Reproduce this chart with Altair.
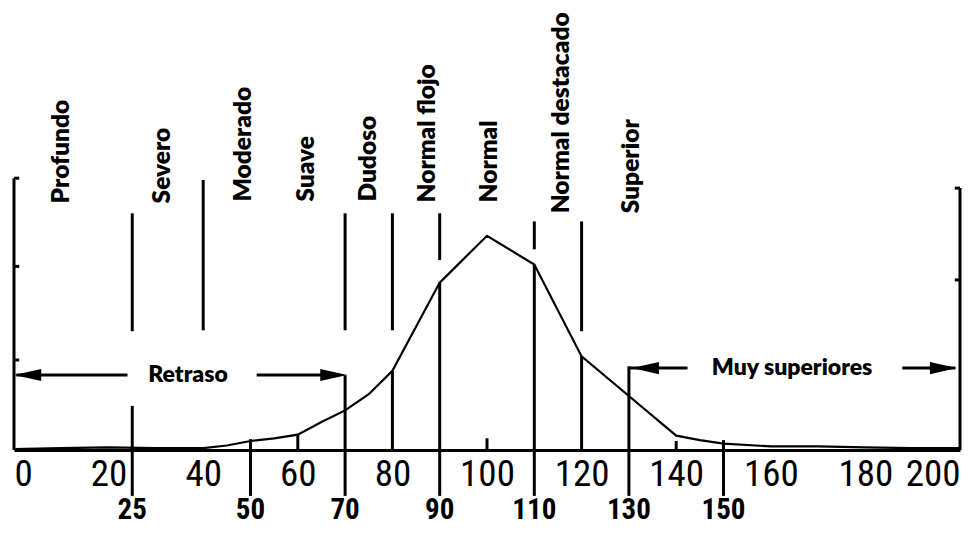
import altair as alt
import pandas as pd

# ---- data (x = score, y = relative frequency in axis units) ----
curve_x = [0, 10, 20, 30, 40, 45, 50, 55, 60, 65, 70, 75, 80, 90, 100, 110, 120, 130, 140, 145, 150, 160, 170, 180, 190, 200]
curve_y = [0.01, 0.02, 0.03, 0.02, 0.02, 0.05, 0.10, 0.13, 0.17, 0.31, 0.44, 0.62, 0.88, 1.86, 2.38, 2.06, 1.04, 0.60, 0.16, 0.11, 0.07, 0.04, 0.04, 0.03, 0.02, 0.02]

tick_values = [0, 20, 40, 60, 80, 100, 120, 140, 160, 180, 200]
bold_values = [25, 50, 70, 90, 110, 130, 150]

categories = ["Profundo", "Severo", "Moderado", "Suave", "Dudoso",
              "Normal flojo", "Normal", "Normal destacado", "Superior"]
category_x = [10.2, 31.5, 48.7, 62.0, 75.0, 87.5, 100.6, 115.8, 130.7]
category_base = [2.74, 2.74, 2.76, 2.76, 2.76, 2.75, 2.75, 2.63, 2.63]

# segments of the drawing (axis frame, class boundaries, arrow shafts)
seg_x1 = [0, 0, 0, 0, 200, 198.9, 198.9,
          25, 25, 40, 50, 60, 70, 70, 80, 80, 90, 90, 100, 110, 110, 120, 120, 130, 140, 150,
          0.5, 51.3, 130.0, 187.8]
seg_x2 = [0, 1.1, 1.1, 1.1, 200, 200, 200,
          25, 25, 40, 50, 60, 70, 70, 80, 80, 90, 90, 100, 110, 110, 120, 120, 130, 140, 150,
          24.0, 67.7, 142.4, 199.0]
seg_y1 = [0, 3.02, 2.04, 1.00, 0, 2.91, 1.89,
          1.32, -0.51, 1.33, -0.51, 0, 1.33, -0.51, 1.33, 0, 2.11, -0.51, 0, 2.23, -0.51, 1.32, 0, -0.51, 0, -0.51,
          0.833, 0.833, 0.91, 0.91]
seg_y2 = [3.02, 3.02, 2.04, 1.00, 2.91, 2.91, 1.89,
          2.63, 0.49, 3.00, 0.12, 0.17, 2.63, 0.83, 2.63, 0.88, 2.63, 1.86, 0.13, 2.54, 2.06, 2.54, 1.04, 0.93, 0.10, 0.11,
          0.833, 0.833, 0.91, 0.91]

arrow_labels = ["Retraso", "Muy superiores"]
arrow_label_x = [36.8, 164.5]
arrow_label_y = [0.833, 0.91]
arrow_left_x = [2.9, 133.5]
arrow_left_y = [0.833, 0.91]
arrow_right_x = [67.6, 196.5]
arrow_right_y = [0.833, 0.91]

# ---- tables ----
curve_df = pd.DataFrame({"x": curve_x, "y": curve_y})
seg_df = pd.DataFrame({"x": seg_x1, "x2": seg_x2, "y": seg_y1, "y2": seg_y2})
cat_df = pd.DataFrame({"x": category_x, "y": category_base, "label": categories})
bold_df = pd.DataFrame({"x": bold_values, "label": [str(v) for v in bold_values]})
alab_df = pd.DataFrame({"x": arrow_label_x, "y": arrow_label_y, "label": arrow_labels})
aleft_df = pd.DataFrame({"x": arrow_left_x, "y": arrow_left_y})
aright_df = pd.DataFrame({"x": arrow_right_x, "y": arrow_right_y})

xscale = alt.Scale(domain=[0, 200], nice=False, zero=False)
yscale = alt.Scale(domain=[0, 4], nice=False, zero=False)

xaxis = alt.Axis(values=tick_values, ticks=False, grid=False, title=None,
                 domain=True, domainColor="black", domainWidth=3,
                 labelFont="Liberation Sans Narrow, Roboto Condensed, Liberation Sans",
                 labelFontSize=37, labelColor="black", labelPadding=6,
                 labelFlush=True, labelOverlap=False, labelBaseline="top")


def X(field="x"):
    return alt.X(f"{field}:Q", scale=xscale, axis=xaxis)


def Y(field="y"):
    return alt.Y(f"{field}:Q", scale=yscale, axis=None)


rules = alt.Chart(seg_df).mark_rule(color="black", strokeWidth=3).encode(
    x=X(), x2="x2:Q", y=Y(), y2="y2:Q")

curve = alt.Chart(curve_df).mark_line(color="black", strokeWidth=2.2).encode(
    x=X(), y=Y())

left_heads = alt.Chart(aleft_df).mark_point(
    shape="M 1 -0.45 L -1 0 L 1 0.45 Z", size=729, filled=True,
    color="black", opacity=1).encode(x=X(), y=Y())
right_heads = alt.Chart(aright_df).mark_point(
    shape="M -1 -0.45 L 1 0 L -1 0.45 Z", size=729, filled=True,
    color="black", opacity=1).encode(x=X(), y=Y())

cat_text = alt.Chart(cat_df).mark_text(
    angle=270, align="left", baseline="middle", font="Lato",
    fontWeight=800, fontSize=24.5, color="black").encode(
    x=X(), y=Y(), text="label:N")

arrow_text = alt.Chart(alab_df).mark_text(
    align="center", baseline="middle", font="Lato",
    fontWeight=800, fontSize=23, color="black").encode(
    x=X(), y=Y(), text="label:N")

bold_text = alt.Chart(bold_df).mark_text(
    align="center", baseline="alphabetic",
    font="Roboto Condensed, DejaVu Sans", fontWeight="bold",
    fontSize=29, color="black").encode(
    x=X(), y=alt.datum(-0.767, scale=yscale), text="label:N")

chart = alt.layer(rules, curve, left_heads, right_heads, cat_text, arrow_text, bold_text).properties(
    width=946, height=360,
    autosize=alt.AutoSizeParams(type="none"),
    padding={"left": 6, "top": 82, "right": 2, "bottom": 78},
    background="white",
).configure_view(stroke=None)

chart.save("out.html", embed_options={"renderer": "svg", "actions": False})
